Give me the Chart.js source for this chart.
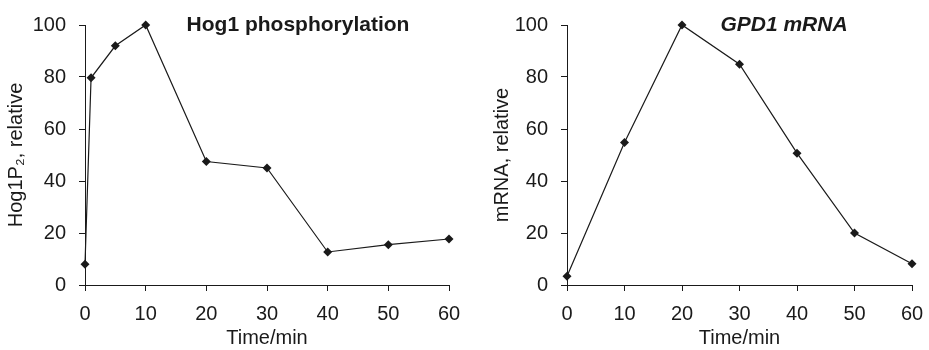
<!DOCTYPE html>
<html>
<head>
<meta charset="utf-8">
<script src="https://cdn.jsdelivr.net/npm/chart.js@4"></script>
<style>
  html, body { margin: 0; padding: 0; background: #fff; overflow: hidden; }
  .wrap { position: absolute; top: 0; height: 350px; }
  #left { left: 0; width: 470px; }
  #right { left: 470px; width: 459px; }
</style>
</head>
<body>
<div class="wrap" id="left"><canvas id="hogChart" width="470" height="350"></canvas></div>
<div class="wrap" id="right"><canvas id="gpdChart" width="459" height="350"></canvas></div>
<script>
// data
const hogTimes = [0, 1, 5, 10, 20, 30, 40, 50, 60];
const hogValues = [8, 79.7, 92, 100, 47.5, 45, 12.7, 15.5, 17.7];
const gpdTimes = [0, 10, 20, 30, 40, 50, 60];
const gpdValues = [3.4, 54.8, 100, 84.9, 50.7, 20, 8.2];
const xTickValues = [0, 10, 20, 30, 40, 50, 60];
const yTickValues = [0, 20, 40, 60, 80, 100];

const ink = "#1a1a1a";
const fontFamily = "'Liberation Sans', Arial, Helvetica, sans-serif";

// title sits inside the plot area, so draw it ourselves
const innerTitle = {
  id: "innerTitle",
  afterDraw(chart, args, opts) {
    const ctx = chart.ctx;
    const area = chart.chartArea;
    ctx.save();
    ctx.fillStyle = ink;
    ctx.font = opts.font;
    ctx.textAlign = "center";
    ctx.textBaseline = "alphabetic";
    ctx.fillText(opts.text, area.left + opts.dx, area.top + 6);
    ctx.restore();
  }
};

function makeChart(id, times, values, yTitle, title, titleFont, dx, pad, yWidth) {
  const ctx = document.getElementById(id).getContext("2d");
  return new Chart(ctx, {
    type: "line",
    data: {
      datasets: [{
        data: times.map((t, i) => ({ x: t, y: values[i] })),
        borderColor: ink,
        borderWidth: 1.2,
        backgroundColor: ink,
        pointStyle: "rectRot",
        pointRadius: 4.5,
        pointBorderWidth: 0,
        pointBackgroundColor: ink,
        fill: false,
        tension: 0,
        clip: false
      }]
    },
    options: {
      responsive: false,
      animation: false,
      devicePixelRatio: 1,
      layout: { padding: pad },
      plugins: {
        legend: { display: false },
        tooltip: { enabled: false },
        innerTitle: { text: title, font: titleFont, dx: dx }
      },
      scales: {
        x: {
          type: "linear",
          min: 0,
          max: 60,
          afterBuildTicks: axis => { axis.ticks = xTickValues.map(v => ({ value: v })); },
          afterFit: axis => {
            axis.height = 65;
            axis.paddingLeft = 0;
            axis.paddingRight = 0;
          },
          grid: { drawOnChartArea: false, drawTicks: true, tickLength: 6, color: ink },
          border: { display: true, color: ink, width: 1 },
          ticks: { color: ink, padding: 11, font: { family: fontFamily, size: 20 } },
          title: {
            display: true,
            text: "Time/min",
            color: ink,
            padding: { top: 2, bottom: 0 },
            font: { family: fontFamily, size: 20 }
          }
        },
        y: {
          min: 0,
          max: 100,
          afterBuildTicks: axis => { axis.ticks = yTickValues.map(v => ({ value: v })); },
          afterFit: axis => { axis.width = yWidth; },
          grid: { drawOnChartArea: false, drawTicks: true, tickLength: 6, color: ink },
          border: { display: true, color: ink, width: 1 },
          ticks: { color: ink, padding: 13, font: { family: fontFamily, size: 20 } },
          title: {
            display: true,
            text: yTitle,
            color: ink,
            padding: { top: 4, bottom: 4 },
            font: { family: fontFamily, size: 20 }
          }
        }
      }
    },
    plugins: [innerTitle]
  });
}

makeChart("hogChart", hogTimes, hogValues, "Hog1P\u2082, relative",
  "Hog1 phosphorylation", "bold 21px " + fontFamily, 213,
  { top: 22, left: 0, right: 21, bottom: 0 }, 85);
makeChart("gpdChart", gpdTimes, gpdValues, "mRNA, relative",
  "GPD1 mRNA", "italic bold 21px " + fontFamily, 217,
  { top: 22, left: 16, right: 17, bottom: 0 }, 81);
</script>
</body>
</html>
